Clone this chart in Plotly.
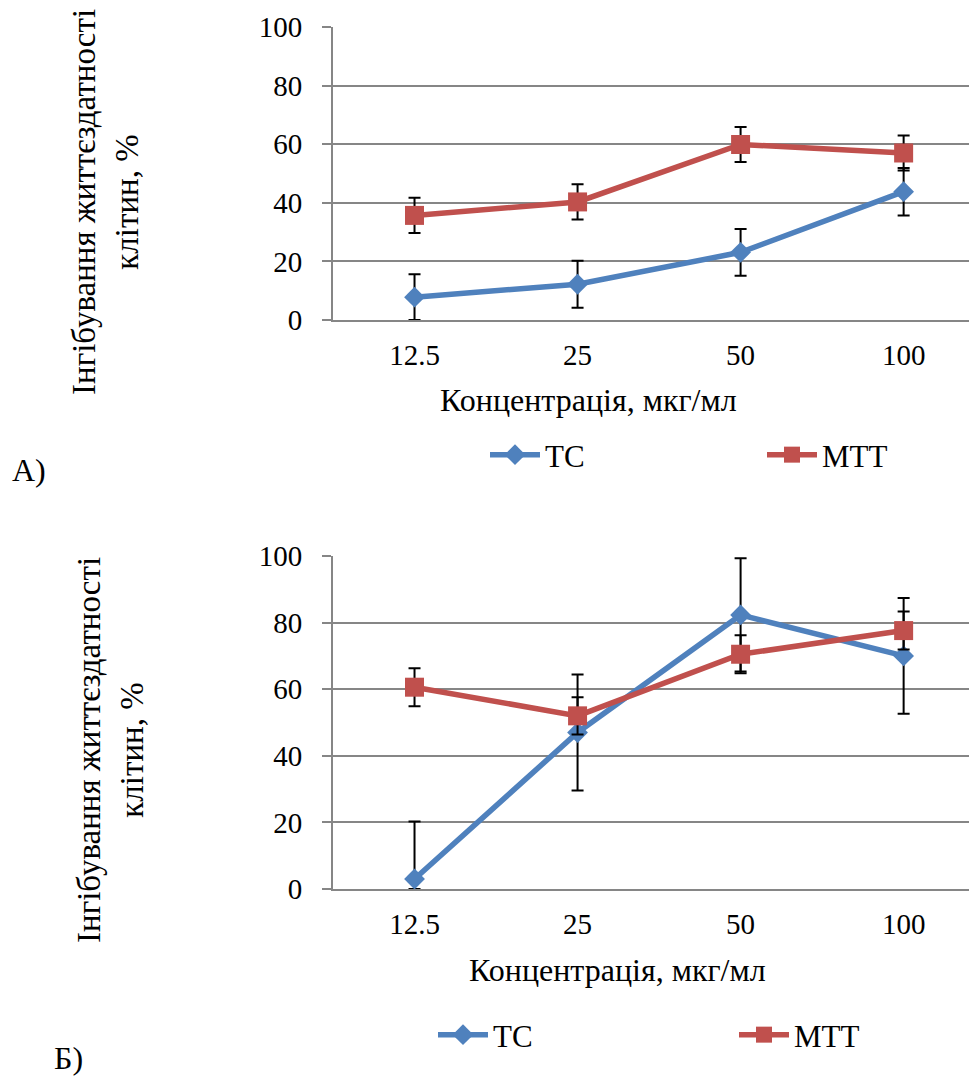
import numpy as np
import plotly.graph_objects as go

categories = ["12.5", "25", "50", "100"]

a_tc = [7.8, 12.2, 23.1, 43.8]
a_tc_err = [7.8, 8.0, 8.0, 8.1]
a_mtt = [35.7, 40.3, 59.9, 57.0]
a_mtt_err = [6.0, 6.0, 6.0, 6.0]

b_tc = [3.0, 47.0, 82.3, 70.0]
b_tc_err = [17.3, 17.4, 17.0, 17.4]
b_mtt = [60.6, 52.0, 70.5, 77.6]
b_mtt_err = [5.7, 5.6, 5.7, 5.7]

y_ticks = [0, 20, 40, 60, 80, 100]

OFF = 8  # the page body has an 8px margin
W, H = 977 - OFF, 1077 - OFF
FONT = "'Times New Roman', 'Liberation Serif', Tinos, 'DejaVu Serif', serif"
BLUE = "#4F81BD"
RED = "#C0504D"
GRID = "#868686"
FS_TICK = 29
FS_TITLE = 32
FS_LEG = 31


def px_x(v):
    return (v - OFF) / W


def px_y(v):
    return 1 - (v - OFF) / H


def err(vals, e):
    # error bars stop at the axis (0) as in the original chart
    return dict(type="data", symmetric=False, array=list(e),
                arrayminus=list(np.minimum(np.array(e), np.array(vals))),
                color="black", thickness=2, width=6)


fig = go.Figure()

series = [
    ("x", "y", "legend", a_tc, a_tc_err, a_mtt, a_mtt_err),
    ("x2", "y2", "legend2", b_tc, b_tc_err, b_mtt, b_mtt_err),
]
for xa, ya, lg, tc, tce, mtt, mtte in series:
    fig.add_trace(go.Scatter(
        x=categories, y=tc, xaxis=xa, yaxis=ya, name="TC", legend=lg,
        mode="lines+markers", cliponaxis=False,
        line=dict(color=BLUE, width=5.5),
        marker=dict(symbol="diamond", size=16, color=BLUE),
        error_y=err(tc, tce)))
    fig.add_trace(go.Scatter(
        x=categories, y=mtt, xaxis=xa, yaxis=ya, name="MTT", legend=lg,
        mode="lines+markers", cliponaxis=False,
        line=dict(color=RED, width=5.5),
        marker=dict(symbol="square", size=19, color=RED),
        error_y=err(mtt, mtte)))

xdom = [px_x(333), 1.0]
ydomA = [px_y(320), px_y(27)]
ydomB = [px_y(889), px_y(556)]

xax = dict(type="category", range=[-0.5, 3.45], showline=True, linecolor=GRID,
           linewidth=2, ticks="", showgrid=False, zeroline=False,
           tickfont=dict(family=FONT, size=FS_TICK, color="black"),
           ticklabelstandoff=8, domain=xdom, fixedrange=True, automargin=False)
yax = dict(range=[0, 100], tickvals=y_ticks, showline=True, linecolor=GRID,
           linewidth=2, ticks="outside", ticklen=9, tickwidth=2, tickcolor=GRID,
           showgrid=True, gridcolor=GRID, gridwidth=2, zeroline=False,
           tickfont=dict(family=FONT, size=FS_TICK, color="black"),
           ticklabelstandoff=14, fixedrange=True, automargin=False)

leg = dict(orientation="h", xanchor="left", yanchor="middle",
           font=dict(family=FONT, size=FS_LEG, color="black"),
           bgcolor="rgba(0,0,0,0)", itemwidth=50, traceorder="normal")

fig.update_layout(
    width=W, height=H,
    margin=dict(l=0, r=0, t=0, b=0, pad=0, autoexpand=False),
    paper_bgcolor="white", plot_bgcolor="white",
    font=dict(family=FONT, size=FS_TICK, color="black"),
    xaxis=dict(xax, anchor="y"),
    yaxis=dict(yax, domain=ydomA, anchor="x"),
    xaxis2=dict(xax, anchor="y2"),
    yaxis2=dict(yax, domain=ydomB, anchor="x2"),
    legend=dict(leg, x=px_x(485), y=px_y(455), entrywidth=212),
    legend2=dict(leg, x=px_x(433), y=px_y(1035), entrywidth=236),
    showlegend=True,
)

ytitle = "Інгібування життєздатності<br>клітин, %"
ann = [
    dict(text=ytitle, x=px_x(106), y=px_y(202), textangle=-90, size=33),
    dict(text=ytitle, x=px_x(110), y=px_y(750), textangle=-90, size=33),
    dict(text="Концентрація, мкг/мл", x=px_x(588), y=px_y(400), size=FS_TITLE),
    dict(text="Концентрація, мкг/мл", x=px_x(617), y=px_y(970), size=FS_TITLE),
    dict(text="А)", x=px_x(29), y=px_y(470), size=FS_TITLE),
    dict(text="Б)", x=px_x(68), y=px_y(1058), size=FS_TITLE),
]
for a in ann:
    size = a.pop("size")
    fig.add_annotation(xref="paper", yref="paper", showarrow=False,
                       xanchor="center", yanchor="middle",
                       font=dict(family=FONT, size=size, color="black"), **a)

fig.write_html("out.html", config=dict(responsive=False))
